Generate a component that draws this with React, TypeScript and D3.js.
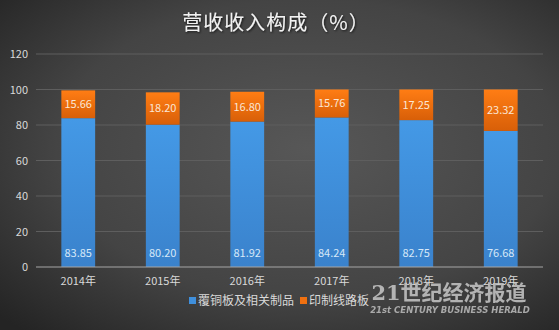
import React from "react";
import * as d3 from "d3";

const years = ["2014年", "2015年", "2016年", "2017年", "2018年", "2019年"];
const ccl = [83.85, 80.2, 81.92, 84.24, 82.75, 76.68];
const pcb = [15.66, 18.2, 16.8, 15.76, 17.25, 23.32];
const yTicks = [0, 20, 40, 60, 80, 100, 120];
const seriesNames = ["覆铜板及相关制品", "印制线路板"];
const title = "营收收入构成（%）";

const W = 559, H = 330;
const M = { left: 36, right: 16, top: 54, bottom: 63 };

export default function App() {
  const x = d3.scaleBand().domain(years).range([M.left, W - M.right]).paddingInner(0.6).paddingOuter(0.3);
  const y = d3.scaleLinear().domain([0, 120]).range([H - M.bottom, M.top]);
  const font = "'Noto Sans CJK SC', 'Noto Sans', sans-serif";
  return (
    <svg width={W} height={H} style={{ position: "absolute", left: 0, top: 0 }}>
      <defs>
        <radialGradient id="bg" cx="0.55" cy="0.45" r="0.75">
          <stop offset="0" stopColor="#575757" />
          <stop offset="0.6" stopColor="#444444" />
          <stop offset="1" stopColor="#242424" />
        </radialGradient>
        <linearGradient id="blue" x1="0" y1="0" x2="0" y2="1">
          <stop offset="0" stopColor="#4499e6" />
          <stop offset="1" stopColor="#3a82cc" />
        </linearGradient>
        <linearGradient id="orange" x1="0" y1="0" x2="0" y2="1">
          <stop offset="0" stopColor="#ff7d14" />
          <stop offset="1" stopColor="#d85f08" />
        </linearGradient>
        <filter id="sh" x="-10%" y="-30%" width="120%" height="160%">
          <feDropShadow dx="1" dy="1" stdDeviation="1" floodColor="#000" floodOpacity="0.7" />
        </filter>
      </defs>
      <rect x={0} y={0} width={W} height={H} fill="url(#bg)" />
      <text x={276} y={30} textAnchor="middle" fontFamily={font} fontSize={20} fill="#f2f2f2" filter="url(#sh)" letterSpacing={1}>
        {title}
      </text>
      {yTicks.map((t) => (
        <g key={t}>
          {t > 0 && <line x1={M.left} x2={W - M.right} y1={y(t)} y2={y(t)} stroke="#5e5e5e" strokeWidth={1} />}
          <text x={28} y={y(t) + 4} textAnchor="end" fontFamily={font} fontSize={11} fill="#d9d9d9">{t}</text>
        </g>
      ))}
      {years.map((yr, i) => {
        const bx = x(yr)!;
        const bw = x.bandwidth();
        const yb = y(ccl[i]);
        const yo = y(ccl[i] + pcb[i]);
        return (
          <g key={yr}>
            <rect x={bx} y={yb} width={bw} height={y(0) - yb} fill="url(#blue)" />
            <rect x={bx} y={yo} width={bw} height={yb - yo} fill="url(#orange)" />
            <text x={bx + bw / 2} y={y(0) - 10} textAnchor="middle" fontFamily={font} fontSize={11} fill="#d6e8f8">
              {ccl[i].toFixed(2)}
            </text>
            <text x={bx + bw / 2} y={(yb + yo) / 2 + 4} textAnchor="middle" fontFamily={font} fontSize={11} fill="#fbe6d4">
              {pcb[i].toFixed(2)}
            </text>
            <text x={bx + bw / 2} y={y(0) + 18} textAnchor="middle" fontFamily={font} fontSize={11} fill="#d9d9d9">
              {yr}
            </text>
          </g>
        );
      })}
      <line x1={M.left} x2={W - M.right} y1={y(0)} y2={y(0)} stroke="#a6a6a6" strokeWidth={1} />
      <g fontFamily={font} fontSize={12} fill="#d9d9d9">
        <rect x={189} y={297} width={7} height={7} fill="#3f8fdc" />
        <text x={198} y={305}>{seriesNames[0]}</text>
        <rect x={300} y={297} width={7} height={7} fill="#f07010" />
        <text x={309} y={305}>{seriesNames[1]}</text>
      </g>
      <g opacity={0.85}>
        <text x={449} y={300} textAnchor="middle" fontFamily="'DejaVu Serif', 'Noto Sans CJK SC', serif" fontWeight="bold" fontSize={21} fill="#c8c8c8">
          21世纪经济报道
        </text>
        <text x={450} y={313} textAnchor="middle" fontFamily="'DejaVu Sans', sans-serif" fontStyle="italic" fontWeight="bold" fontSize={8.5} fill="#bdbdbd">
          21st CENTURY BUSINESS HERALD
        </text>
      </g>
    </svg>
  );
}
